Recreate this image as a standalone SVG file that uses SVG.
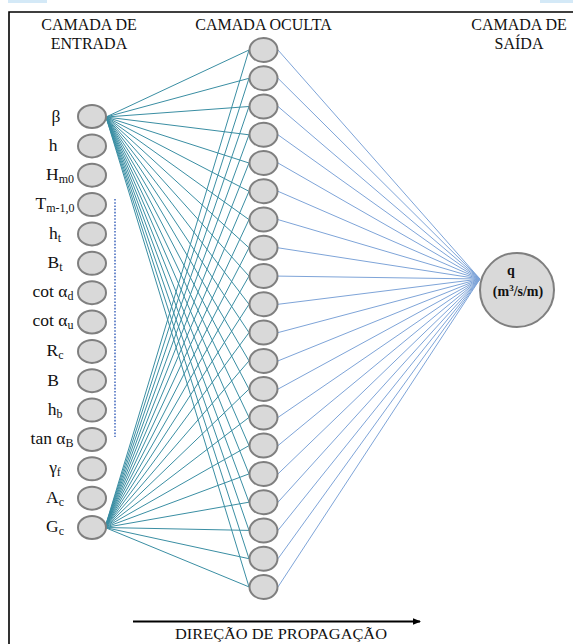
<svg xmlns="http://www.w3.org/2000/svg" width="573" height="644" viewBox="0 0 573 644">
<defs>
<style>
text{font-family:"Liberation Serif","DejaVu Serif","Times New Roman",serif;fill:#111}
.hd{font-size:16px;text-anchor:middle}
.lb{font-size:17.5px;text-anchor:middle}
.nd{fill:#d9d9d9;stroke:#7f7f7f;stroke-width:2}
.ci{stroke:#3a8ea3;stroke-width:1;fill:none}
.co{stroke:#7ea4d8;stroke-width:1;fill:none}
</style>
<marker id="ah" markerWidth="8" markerHeight="8" refX="7" refY="4" orient="auto" markerUnits="userSpaceOnUse">
<path d="M0,0.8 L8,4 L0,7.2 Z" fill="#000"/>
</marker>
</defs>
<rect width="573" height="644" fill="#fff"/>
<rect x="8" y="0" width="39" height="3" fill="#d4e9f7"/>
<rect x="540" y="0" width="33" height="3" fill="#d4e9f7"/>
<path d="M9,644 V12 H573" fill="none" stroke="#000" stroke-width="1.6"/>

<g id="headers" font-family="Liberation Serif, DejaVu Serif, serif">
<text class="hd" x="89" y="30">CAMADA DE</text>
<text class="hd" x="89" y="49">ENTRADA</text>
<text class="hd" x="263.5" y="30">CAMADA OCULTA</text>
<text class="hd" x="519" y="30">CAMADA DE</text>
<text class="hd" x="519" y="49">SAÍDA</text>
</g>

<g id="connectors">
<g class="ci">
<path d="M106,117 L249,50 M106,117 L249,78.3 M106,117 L249,106.5 M106,117 L249,134.8 M106,117 L249,163 M106,117 L249,191.3 M106,117 L249,219.6 M106,117 L249,247.8 M106,117 L249,276.1 M106,117 L249,304.3 M106,117 L249,332.6 M106,117 L249,360.9 M106,117 L249,389.1 M106,117 L249,417.4 M106,117 L249,445.6 M106,117 L249,473.9 M106,117 L249,502.2 M106,117 L249,530.4 M106,117 L249,558.7 M106,117 L249,586.9"/>
<path d="M105,527.5 L249,50 M105,527.5 L249,78.3 M105,527.5 L249,106.5 M105,527.5 L249,134.8 M105,527.5 L249,163 M105,527.5 L249,191.3 M105,527.5 L249,219.6 M105,527.5 L249,247.8 M105,527.5 L249,276.1 M105,527.5 L249,304.3 M105,527.5 L249,332.6 M105,527.5 L249,360.9 M105,527.5 L249,389.1 M105,527.5 L249,417.4 M105,527.5 L249,445.6 M105,527.5 L249,473.9 M105,527.5 L249,502.2 M105,527.5 L249,530.4 M105,527.5 L249,558.7 M105,527.5 L249,586.9"/>
</g>
<path class="co" d="M278,50 L480,279 M278,78.3 L480,279 M278,106.5 L480,279 M278,134.8 L480,279 M278,163 L480,279 M278,191.3 L480,279 M278,219.6 L480,279 M278,247.8 L480,279 M278,276.1 L480,279 M278,304.3 L480,279 M278,332.6 L480,279 M278,360.9 L480,279 M278,389.1 L480,279 M278,417.4 L480,279 M278,445.6 L480,279 M278,473.9 L480,279 M278,502.2 L480,279 M278,530.4 L480,279 M278,558.7 L480,279 M278,586.9 L480,279"/>
</g>

<line x1="115" y1="199" x2="115" y2="437" stroke="#4a6fc0" stroke-width="1.6" stroke-dasharray="1.6 1.6"/>

<g id="input-nodes" font-family="Liberation Serif, DejaVu Serif, serif">
<g id="in-beta"><ellipse class="nd" cx="92" cy="116.5" rx="14" ry="11.5"/><text class="lb" x="56" y="122">β</text></g>
<g id="in-h"><ellipse class="nd" cx="92" cy="145.9" rx="14" ry="11.5"/><text class="lb" x="53" y="151">h</text></g>
<g id="in-Hm0"><ellipse class="nd" cx="92" cy="175.2" rx="14" ry="11.5"/><text class="lb" x="60" y="180">H<tspan font-size="12" dy="3">m0</tspan></text></g>
<g id="in-Tm10"><ellipse class="nd" cx="92" cy="204.6" rx="14" ry="11.5"/><text class="lb" x="55" y="209">T<tspan font-size="12" dy="3">m-1,0</tspan></text></g>
<g id="in-ht"><ellipse class="nd" cx="92" cy="233.9" rx="14" ry="11.5"/><text class="lb" x="55" y="239">h<tspan font-size="12" dy="3">t</tspan></text></g>
<g id="in-Bt"><ellipse class="nd" cx="92" cy="263.3" rx="14" ry="11.5"/><text class="lb" x="55" y="268">B<tspan font-size="12" dy="3">t</tspan></text></g>
<g id="in-cotad"><ellipse class="nd" cx="92" cy="292.7" rx="14" ry="11.5"/><text class="lb" x="53" y="297">cot α<tspan font-size="12" dy="3">d</tspan></text></g>
<g id="in-cotau"><ellipse class="nd" cx="92" cy="322" rx="14" ry="11.5"/><text class="lb" x="53" y="326">cot α<tspan font-size="12" dy="3">u</tspan></text></g>
<g id="in-Rc"><ellipse class="nd" cx="92" cy="351.4" rx="14" ry="11.5"/><text class="lb" x="55" y="356">R<tspan font-size="12" dy="3">c</tspan></text></g>
<g id="in-B"><ellipse class="nd" cx="92" cy="380.7" rx="14" ry="11.5"/><text class="lb" x="53" y="386">B</text></g>
<g id="in-hb"><ellipse class="nd" cx="92" cy="410.1" rx="14" ry="11.5"/><text class="lb" x="55" y="415">h<tspan font-size="12" dy="3">b</tspan></text></g>
<g id="in-tanaB"><ellipse class="nd" cx="92" cy="439.5" rx="14" ry="11.5"/><text class="lb" x="52" y="444">tan α<tspan font-size="12" dy="3">B</tspan></text></g>
<g id="in-gf"><ellipse class="nd" cx="92" cy="468.8" rx="14" ry="11.5"/><text class="lb" x="55" y="473">γ<tspan font-size="12" dy="3">f</tspan></text></g>
<g id="in-Ac"><ellipse class="nd" cx="92" cy="498.2" rx="14" ry="11.5"/><text class="lb" x="55" y="503">A<tspan font-size="12" dy="3">c</tspan></text></g>
<g id="in-Gc"><ellipse class="nd" cx="92" cy="527.5" rx="14" ry="11.5"/><text class="lb" x="55" y="532">G<tspan font-size="12" dy="3">c</tspan></text></g>
</g>

<g id="hidden-nodes">
<ellipse id="h1" class="nd" cx="263.5" cy="50" rx="14" ry="12"/>
<ellipse id="h2" class="nd" cx="263.5" cy="78.3" rx="14" ry="12"/>
<ellipse id="h3" class="nd" cx="263.5" cy="106.5" rx="14" ry="12"/>
<ellipse id="h4" class="nd" cx="263.5" cy="134.8" rx="14" ry="12"/>
<ellipse id="h5" class="nd" cx="263.5" cy="163" rx="14" ry="12"/>
<ellipse id="h6" class="nd" cx="263.5" cy="191.3" rx="14" ry="12"/>
<ellipse id="h7" class="nd" cx="263.5" cy="219.6" rx="14" ry="12"/>
<ellipse id="h8" class="nd" cx="263.5" cy="247.8" rx="14" ry="12"/>
<ellipse id="h9" class="nd" cx="263.5" cy="276.1" rx="14" ry="12"/>
<ellipse id="h10" class="nd" cx="263.5" cy="304.3" rx="14" ry="12"/>
<ellipse id="h11" class="nd" cx="263.5" cy="332.6" rx="14" ry="12"/>
<ellipse id="h12" class="nd" cx="263.5" cy="360.9" rx="14" ry="12"/>
<ellipse id="h13" class="nd" cx="263.5" cy="389.1" rx="14" ry="12"/>
<ellipse id="h14" class="nd" cx="263.5" cy="417.4" rx="14" ry="12"/>
<ellipse id="h15" class="nd" cx="263.5" cy="445.6" rx="14" ry="12"/>
<ellipse id="h16" class="nd" cx="263.5" cy="473.9" rx="14" ry="12"/>
<ellipse id="h17" class="nd" cx="263.5" cy="502.2" rx="14" ry="12"/>
<ellipse id="h18" class="nd" cx="263.5" cy="530.4" rx="14" ry="12"/>
<ellipse id="h19" class="nd" cx="263.5" cy="558.7" rx="14" ry="12"/>
<ellipse id="h20" class="nd" cx="263.5" cy="586.9" rx="14" ry="12"/>
</g>

<g id="output-node" font-family="Liberation Serif, DejaVu Serif, serif">
<circle class="nd" cx="517" cy="290" r="37"/>
<text x="511" y="275" font-size="14" font-weight="bold" text-anchor="middle">q</text>
<text x="518" y="296" font-size="14" font-weight="bold" text-anchor="middle">(m<tspan font-size="9" dy="-5">3</tspan><tspan dy="5">/s/m)</tspan></text>
</g>

<g id="direction" font-family="Liberation Serif, DejaVu Serif, serif">
<line x1="133" y1="621.5" x2="420" y2="621.5" stroke="#000" stroke-width="2" marker-end="url(#ah)"/>
<text x="281" y="639" font-size="14.5" text-anchor="middle" textLength="212" lengthAdjust="spacingAndGlyphs">DIREÇÃO DE PROPAGAÇÃO</text>
</g>
</svg>
